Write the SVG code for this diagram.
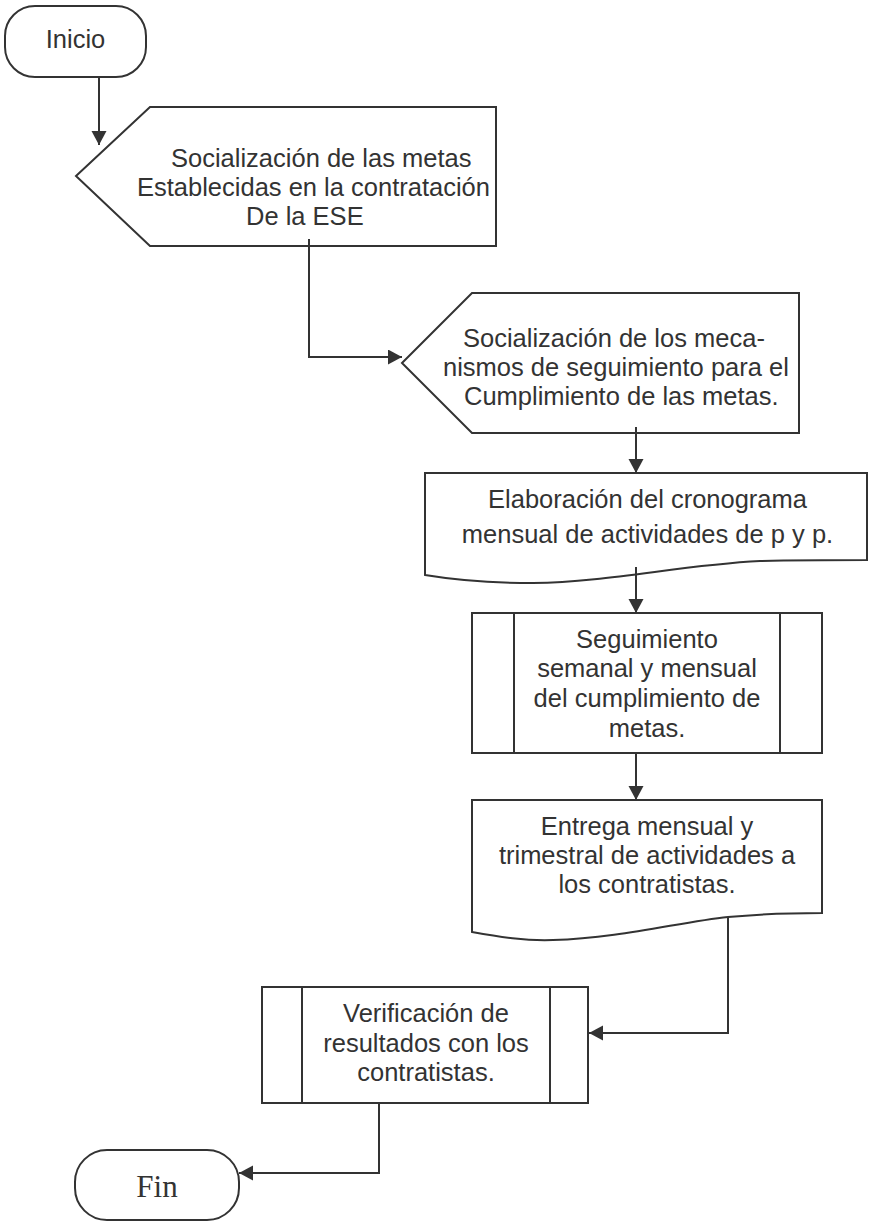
<svg xmlns="http://www.w3.org/2000/svg" width="869" height="1223" viewBox="0 0 869 1223">
  <defs>
    <style>
      .shape { fill: #ffffff; stroke: #333333; stroke-width: 2; }
      .inner { stroke: #333333; stroke-width: 2; fill: none; }
      .conn { fill: none; stroke: #333333; stroke-width: 2; }
      .lbl { font-family: "Liberation Sans", Arial, sans-serif; font-size: 25.5px; fill: #333333; }
      .mid { text-anchor: middle; }
      .serif { font-family: "Liberation Serif", "Times New Roman", serif; font-size: 31px; fill: #333333; text-anchor: middle; }
    </style>
    <marker id="arrow" markerUnits="userSpaceOnUse" markerWidth="15" markerHeight="16" refX="14" refY="7.5" orient="auto">
      <path d="M0,0 L14,7.5 L0,15 Z" fill="#333333"/>
    </marker>
  </defs>

  <rect width="869" height="1223" fill="#ffffff"/>

  <g id="inicio">
    <rect class="shape" x="5" y="6" width="141" height="71" rx="30" ry="30"/>
    <text class="lbl mid" x="75.5" y="48">Inicio</text>
  </g>

  <g id="n1">
    <polygon class="shape" points="76,176 150,107 496,107 496,246 150,246"/>
    <text class="lbl" x="171" y="167">Socialización de las metas</text>
    <text class="lbl" x="137" y="196">Establecidas en la contratación</text>
    <text class="lbl" x="246" y="225">De la ESE</text>
  </g>

  <g id="n2">
    <polygon class="shape" points="402,363 472,293 799,293 799,433 472,433"/>
    <text class="lbl" x="463" y="347">Socialización de los meca-</text>
    <text class="lbl" x="443" y="376">nismos de seguimiento para el</text>
    <text class="lbl" x="464" y="405">Cumplimiento de las metas.</text>
  </g>

  <g id="n3">
    <path class="shape" d="M425,473 H867 V560 C840,560 800,560 760,561 C680,565 610,582 533,583 C490,583 455,580 425,575 Z"/>
    <text class="lbl mid" x="647.5" y="508">Elaboración del cronograma</text>
    <text class="lbl mid" x="647.5" y="543">mensual de actividades de p y p.</text>
  </g>

  <g id="n4">
    <rect class="shape" x="472" y="613" width="350" height="140"/>
    <line class="inner" x1="514" y1="613" x2="514" y2="753"/>
    <line class="inner" x1="780" y1="613" x2="780" y2="753"/>
    <text class="lbl mid" x="647" y="648">Seguimiento</text>
    <text class="lbl mid" x="647" y="677">semanal y mensual</text>
    <text class="lbl mid" x="647" y="707">del cumplimiento de</text>
    <text class="lbl mid" x="647" y="737">metas.</text>
  </g>

  <g id="n5">
    <path class="shape" d="M472,800 H822 V913 C790,913 760,914 728,917 C680,922 620,938 553,940 C525,941 500,937 472,932 Z"/>
    <text class="lbl mid" x="647" y="835">Entrega mensual y</text>
    <text class="lbl mid" x="647" y="864">trimestral de actividades a</text>
    <text class="lbl mid" x="647" y="893">los contratistas.</text>
  </g>

  <g id="n6">
    <rect class="shape" x="262" y="987" width="326" height="116"/>
    <line class="inner" x1="302" y1="987" x2="302" y2="1103"/>
    <line class="inner" x1="550" y1="987" x2="550" y2="1103"/>
    <text class="lbl mid" x="426" y="1022">Verificación de</text>
    <text class="lbl mid" x="426" y="1052">resultados con los</text>
    <text class="lbl mid" x="426" y="1081">contratistas.</text>
  </g>

  <g id="fin">
    <rect class="shape" x="75" y="1150" width="164" height="70" rx="32" ry="32"/>
    <text class="serif" x="157" y="1197">Fin</text>
  </g>

  <g id="connectors">
    <path class="conn" d="M99,77 V145" marker-end="url(#arrow)"/>
    <path class="conn" d="M309,239 V357 H402" marker-end="url(#arrow)"/>
    <path class="conn" d="M636,427 V473" marker-end="url(#arrow)"/>
    <path class="conn" d="M636,567 V613" marker-end="url(#arrow)"/>
    <path class="conn" d="M636,753 V800" marker-end="url(#arrow)"/>
    <path class="conn" d="M728,917 V1033 H589" marker-end="url(#arrow)"/>
    <path class="conn" d="M379,1103 V1173 H239" marker-end="url(#arrow)"/>
  </g>
</svg>
